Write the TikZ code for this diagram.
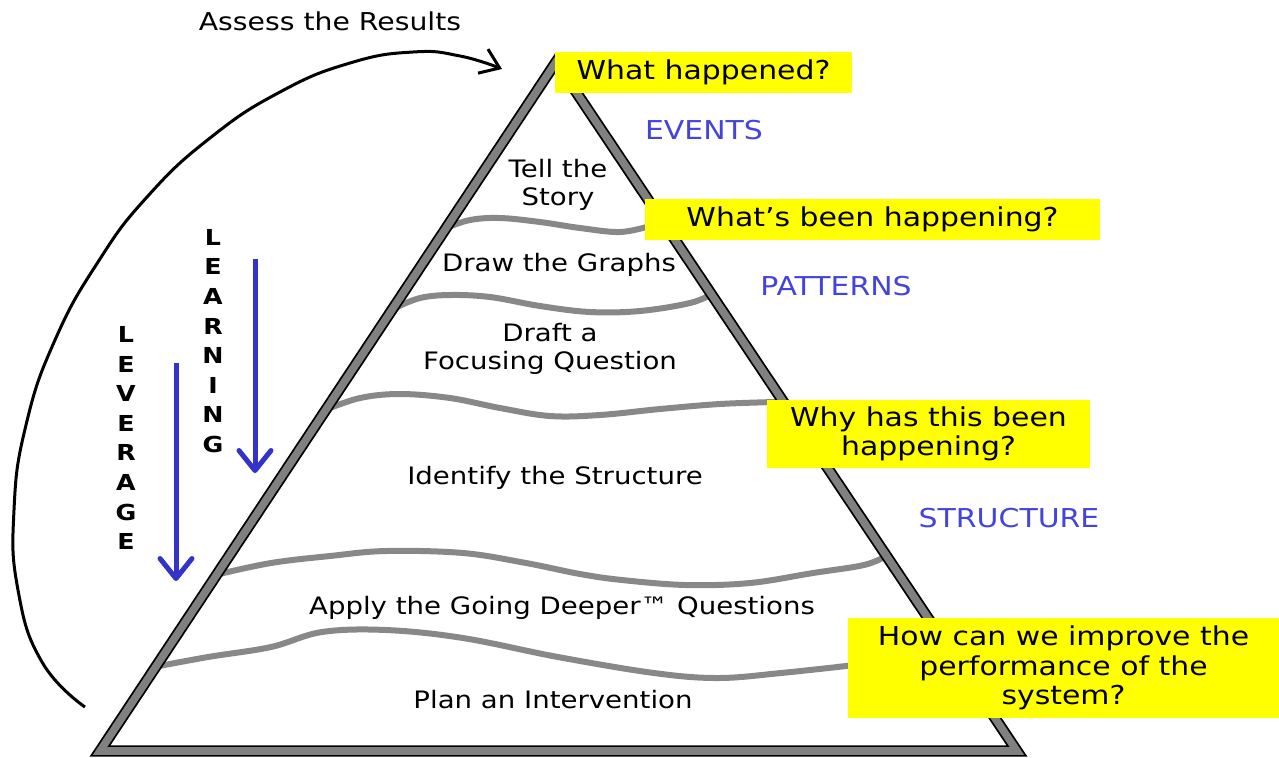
\documentclass[tikz,border=0pt]{standalone}
\usepackage{fontspec}
\setmainfont{DejaVu Sans}[FakeStretch=1.15]
\usetikzlibrary{arrows.meta}
\definecolor{ylw}{RGB}{255,255,0}
\definecolor{lblue}{RGB}{68,68,221}
\definecolor{abl}{RGB}{51,51,204}
\definecolor{wgray}{RGB}{136,136,136}
\definecolor{tgray}{RGB}{128,128,128}
\begin{document}
\begin{tikzpicture}[x=0.5pt,y=-0.5pt,
  wave/.style={wgray, line width=3pt, line cap=round, line join=round},
  qbox/.style={fill=ylw, inner sep=0pt, align=center, font=\fontsize{13}{14.8}\selectfont},
  ptext/.style={align=center, font=\fontsize{12}{14}\selectfont},
  lvl/.style={text=lblue, font=\fontsize{13}{15}\selectfont},
  vlet/.style={align=center, font=\bfseries\fontsize{11}{14.8}\selectfont},
  barrow/.style={abl, line width=2.5pt, -{Straight Barb[length=10pt,width=16pt,round]}}
]
\useasboundingbox (0,0) rectangle (1279,757);

% wavy dividers
\draw[wave] plot[smooth, tension=0.6] coordinates {(446,228) (470,220) (500,218) (540,222) (580,228) (620,232) (650,226)};
\draw[wave] plot[smooth, tension=0.6] coordinates {(395,308) (420,298) (450,295) (490,297) (540,306) (590,312) (640,311) (690,303) (712,294)};
\draw[wave] plot[smooth, tension=0.6] coordinates {(325,410) (360,398) (400,394) (450,398) (500,408) (550,416) (600,415) (660,409) (720,404) (775,402)};
\draw[wave] plot[smooth, tension=0.6] coordinates {(215,575) (271,563) (330,556) (386,551) (463,553) (526,563) (580,574) (622,580) (686,585) (750,583) (813,573) (864,565) (886,556)};
\draw[wave] plot[smooth, tension=0.6] coordinates {(154,667) (208,657) (271,647) (322,632) (386,630) (463,638) (558,657) (654,673) (718,678) (781,673) (855,665)};

% pyramid
\coordinate (apex) at (556,62);
\coordinate (bl) at (100,751);
\coordinate (br) at (1017,751);
\draw[black, line width=5.6pt, line join=miter] (apex) -- (bl) -- (br) -- cycle;
\draw[tgray, line width=3.8pt, line join=miter] (apex) -- (bl) -- (br) -- cycle;

% assess arc
\coordinate (as) at (85,707);
\coordinate (ae) at (502,69);
\draw[line width=1.5pt, -{Straight Barb[length=9pt,width=13pt]}] plot[smooth, tension=0.8] coordinates {(as) (42,662) (18,590) (14,510) (26,425) (55,340) (98,262) (147,197) (210,138) (280,92) (350,63) (413,52) (460,56) (ae)};
\node[font=\fontsize{12.3}{14}\selectfont] (assess) at (330,21) {Assess the Results};

% yellow question boxes
\node[qbox, minimum width=148.5pt, minimum height=20.5pt] (q1) at (703.5,72.5) {What happened?};
\node[qbox, minimum width=227.5pt, minimum height=20.5pt] (q2) at (872.5,219.5) {What’s been happening?};
\node[qbox, minimum width=161.5pt, minimum height=34pt] (q3) at (928.5,434) {Why has this been\\happening?};
\node[qbox, minimum width=215.5pt, minimum height=50pt] (q4) at (1063.5,668) {How can we improve the\\performance of the\\system?};

% level labels
\node[lvl] (ev) at (704,130) {EVENTS};
\node[lvl] (pa) at (836,286) {PATTERNS};
\node[lvl] (st) at (1009,518) {STRUCTURE};

% pyramid steps
\node[ptext] (s1) at (558,185) {Tell the\\Story};
\node[ptext] (s2) at (559,265) {Draw the Graphs};
\node[ptext] (s3) at (550,349) {Draft a\\Focusing Question};
\node[ptext] (s4) at (555,478) {Identify the Structure};
\node[ptext] (s5) at (562,608) {Apply the Going Deeper™ Questions};
\node[ptext] (s6) at (553,700) {Plan an Intervention};

% vertical words and arrows
\node[vlet] (learn) at (213,341) {L\\E\\A\\R\\N\\I\\N\\G};
\node[vlet] (lever) at (126,438) {L\\E\\V\\E\\R\\A\\G\\E};
\coordinate (la1) at (255,259);
\coordinate (la2) at (255,473);
\coordinate (lv1) at (176,363);
\coordinate (lv2) at (176,581);
\draw[barrow] (la1) -- (la2);
\draw[barrow] (lv1) -- (lv2);
\end{tikzpicture}
\end{document}
